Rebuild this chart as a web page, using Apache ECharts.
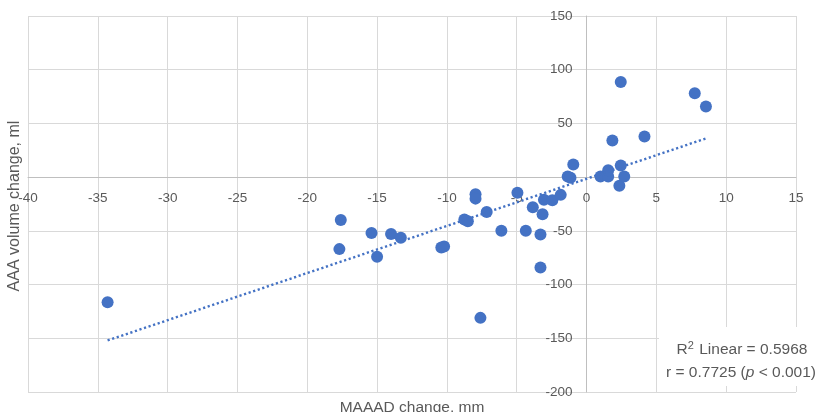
<!DOCTYPE html>
<html>
<head>
<meta charset="utf-8">
<script src="https://cdn.jsdelivr.net/npm/echarts@6/dist/echarts.min.js"></script>
<style>html,body{margin:0;padding:0;background:#fff}#c{width:820px;height:412px}</style>
</head>
<body>
<div id="c"></div>
<script>
// MAAAD change (mm) for each patient
const maaadChange = [-34.3, -17.6, -17.7, -15.4, -15.0, -14.0, -13.3, -10.4, -10.2, -8.75, -8.5, -7.95, -7.95, -7.6, -7.15, -6.1, -4.95, -4.35, -3.85, -3.3, -3.3, -3.15, -3.05, -2.45, -1.85, -1.35, -1.15, -0.95, 1.0, 1.55, 1.55, 1.85, 2.35, 2.45, 2.45, 2.7, 4.15, 7.75, 8.55];
// AAA volume change (ml) for each patient
const volumeChange = [-116.5, -40, -67, -52, -74, -53, -56.5, -65.5, -64.5, -39.5, -41, -16, -20, -131, -32.5, -50, -14.5, -50, -28, -53.5, -84, -34.5, -21, -21.5, -16.5, 0.5, -0.5, 11.8, 0.5, 0.5, 6.5, 34, -8, 10.8, 88.5, 0.7, 37.8, 78, 65.8];
// Linear trend line end points
const trendX = [-34.3, 8.55];
const trendY = [-152, 36];
const xTicks = {min: -40, max: 15, interval: 5};
const yTicks = {min: -200, max: 150, interval: 50};

const font = '"Liberation Sans", Arial, sans-serif';
const txt = '#595959';
const G = {left: 28, right: 24, top: 16, bottom: 20};
const W = 820, H = 412;
const plotW = W - G.left - G.right, plotH = H - G.top - G.bottom;
// shift axes so they cross at zero (labels follow the axis)
const xOffset = -plotH * (0 - yTicks.min) / (yTicks.max - yTicks.min);
const yOffset = -plotW * (0 - xTicks.min) / (xTicks.max - xTicks.min);

const chart = echarts.init(document.getElementById('c'), null, {renderer: 'canvas'});
chart.setOption({
  animation: false,
  backgroundColor: '#fff',
  grid: Object.assign({containLabel: false, outerBoundsMode: 'none'}, G),
  xAxis: {
    type: 'value', min: xTicks.min, max: xTicks.max, interval: xTicks.interval,
    position: 'bottom', offset: xOffset,
    axisLine: {show: true, onZero: false, lineStyle: {color: '#bfbfbf', width: 1}},
    axisTick: {show: false},
    axisLabel: {color: txt, fontSize: 13.5, fontFamily: font, margin: 14, showMinLabel: true, showMaxLabel: true},
    splitLine: {show: true, lineStyle: {color: '#d9d9d9', width: 1}}
  },
  yAxis: {
    type: 'value', min: yTicks.min, max: yTicks.max, interval: yTicks.interval,
    position: 'left', offset: yOffset,
    axisLine: {show: true, onZero: false, lineStyle: {color: '#bfbfbf', width: 1}},
    axisTick: {show: false},
    axisLabel: {color: txt, fontSize: 13.5, fontFamily: font, margin: 14, showMinLabel: true, showMaxLabel: true},
    splitLine: {show: true, lineStyle: {color: '#d9d9d9', width: 1}}
  },
  series: [
    {
      type: 'scatter',
      data: maaadChange.map((x, i) => [x, volumeChange[i]]),
      symbolSize: 12,
      itemStyle: {color: '#4472C4', opacity: 1},
      z: 2
    },
    {
      type: 'line',
      data: trendX.map((x, i) => [x, trendY[i]]),
      symbol: 'none',
      lineStyle: {color: '#4472C4', width: 2.4, type: [2.2, 2.6]},
      z: 3,
      silent: true
    }
  ],
  graphic: [
    {
      type: 'text', x: 15, y: 206, rotation: Math.PI / 2,
      style: {text: 'AAA volume change, ml', fill: txt, font: '16px ' + font, align: 'center', verticalAlign: 'middle'}
    },
    {
      type: 'text', x: 412, y: 408,
      style: {text: 'MAAAD change, mm', fill: txt, font: '15.5px ' + font, align: 'center', verticalAlign: 'middle'}
    },
    {
      type: 'rect', shape: {x: 659, y: 327, width: 170, height: 59},
      style: {fill: '#fff'}, z: 10
    },
    {
      type: 'text', x: 742, y: 350, z: 11,
      style: {
        text: 'R{sup|2} Linear = 0.5968', fill: txt, font: '15.5px ' + font,
        align: 'center', verticalAlign: 'middle',
        rich: {sup: {fontSize: 11, fontFamily: font, fill: txt, verticalAlign: 'top', lineHeight: 19, padding: [0, 1, 8, 0]}}
      }
    },
    {
      type: 'text', x: 741, y: 373, z: 11,
      style: {
        text: 'r = 0.7725 ({it|p} < 0.001)', fill: txt, font: '15.5px ' + font,
        align: 'center', verticalAlign: 'middle',
        rich: {it: {fontStyle: 'italic', fontSize: 15.5, fontFamily: font, fill: txt}}
      }
    }
  ]
});
</script>
</body>
</html>
